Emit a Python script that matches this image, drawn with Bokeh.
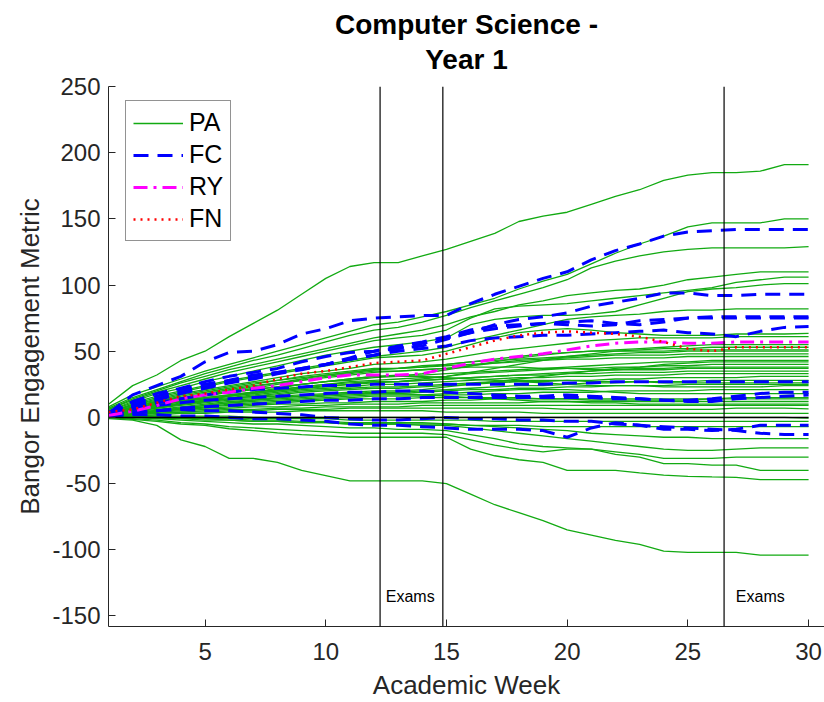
from bokeh.plotting import figure
from bokeh.models import Span, Legend, LegendItem, Range1d, FixedTicker, Title
from bokeh.embed import file_html
from bokeh.resources import INLINE
from bokeh.core.properties import value

TITLE_LINE_1 = "Computer Science -"
TITLE_LINE_2 = "Year 1"
X_LABEL = "Academic Week"
Y_LABEL = "Bangor Engagement Metric"
WEEKS = list(range(1, 31))
X_TICKS = [5, 10, 15, 20, 25, 30]
Y_TICKS = [-150, -100, -50, 0, 50, 100, 150, 200, 250]
Y_TICK_LABELS = ["-150", "-100", "-50", "0", "50", "100", "150", "200", "250"]
EXAM_LINES = [12.25, 14.85, 26.5]
EXAM_LABEL_X = [13.5, 28.0]
EXAM_LABEL_Y = [-135, -135]
EXAM_LABELS = ["Exams", "Exams"]

# PA (green, solid)
PA = [
    [10, 24, 32, 43, 50, 61, 71, 81, 93, 105, 114, 117, 117, 122, 127, 133, 139, 148, 152, 155, 161, 167, 172, 179, 183, 185, 185, 186, 191, 191],
    [8, 17, 23, 29, 35, 40, 45, 50, 55, 60, 65, 70, 72, 76, 80, 85, 90, 97, 103, 108, 116, 124, 131, 137, 144, 147, 147, 147, 150, 150],
    [7, 15, 21, 27, 33, 38, 43, 47, 52, 57, 62, 66, 68, 72, 77, 83, 88, 93, 98, 104, 113, 118, 122, 125, 127, 128, 128, 128, 128, 129],
    [6, 14, 20, 26, 31, 36, 40, 44, 48, 52, 56, 60, 63, 66, 70, 76, 80, 85, 88, 92, 94, 96, 97, 100, 104, 106, 108, 110, 110, 110],
    [6, 13, 19, 24, 29, 34, 38, 42, 46, 50, 54, 58, 60, 62, 66, 75, 82, 84, 85, 86, 88, 90, 92, 94, 96, 98, 102, 104, 106, 106],
    [5, 12, 18, 22, 27, 31, 35, 39, 43, 47, 50, 53, 55, 57, 60, 70, 74, 76, 77, 77, 78, 80, 85, 90, 95, 97, 98, 100, 101, 101],
    [5, 11, 16, 20, 24, 28, 31, 34, 37, 40, 43, 46, 48, 50, 53, 58, 62, 66, 70, 74, 76, 77, 78, 80, 81, 81, 82, 82, 82, 82],
    [4, 10, 15, 19, 23, 27, 30, 33, 36, 39, 42, 45, 46, 47, 50, 55, 60, 64, 66, 67, 66, 64, 63, 62, 62, 62, 63, 63, 63, 63.5],
    [4, 9, 14, 18, 21, 24, 27, 30, 33, 35, 37, 40, 41, 42, 44, 47, 50, 52, 54, 56, 58, 59, 60, 60, 60, 60, 61, 61, 61, 61],
    [3, 8, 12, 15, 17, 19, 21, 23, 25, 27, 28, 30, 31, 33, 36, 39, 42, 45, 47, 49, 50, 51, 52, 53, 54, 55, 55, 55, 55, 55],
    [2, 6, 9, 12, 14, 16, 18, 20, 22, 23, 25, 26, 27, 29, 31, 34, 37, 40, 43, 46, 48, 50, 51, 52, 52, 53, 53, 53, 53, 53],
    [4, 9, 13, 17, 20, 23, 26, 28, 30, 32, 34, 36, 37, 38, 40, 42, 44, 46, 48, 49, 50, 50, 50, 50, 51, 51, 51, 51, 51, 51],
    [3, 7, 11, 14, 17, 20, 23, 26, 29, 32, 34, 36, 37, 39, 40, 42, 43, 44, 45, 46, 47, 48, 49, 49, 50, 50, 50, 50, 50, 50],
    [3, 8, 12, 15, 18, 21, 24, 26, 28, 30, 32, 34, 35, 36, 37, 39, 41, 43, 44, 45, 46, 47, 47, 47, 48, 48, 48, 48, 48, 48],
    [3, 8, 12, 16, 19, 22, 25, 28, 31, 33, 35, 37, 37, 38, 39, 40, 41, 42, 43, 44, 44, 45, 45, 45, 46, 46, 46, 46, 46, 46],
    [3, 7, 11, 14, 17, 19, 21, 23, 25, 27, 29, 31, 32, 32, 33, 34, 35, 36, 37, 38, 39, 40, 41, 42, 42, 43, 43, 43, 43, 43],
    [2, 5, 8, 10, 12, 14, 15, 16, 17, 18, 19, 20, 20, 21, 23, 25, 27, 29, 31, 33, 35, 37, 38, 40, 41, 42, 42, 42, 42, 42],
    [3, 7, 10, 13, 15, 17, 19, 21, 23, 25, 27, 28, 29, 30, 31, 33, 34, 35, 36, 37, 37, 38, 38, 39, 39, 40, 40, 40, 40, 40],
    [2, 6, 9, 12, 15, 17, 19, 21, 23, 25, 26, 27, 27, 28, 29, 30, 31, 32, 33, 34, 35, 36, 37, 37, 38, 38, 38, 38, 38, 38],
    [2, 6, 10, 13, 16, 19, 22, 25, 28, 31, 33, 35, 35, 36, 37, 38, 38, 38, 37, 37, 36, 36, 36, 36, 37, 37, 37, 37, 37, 37],
    [2, 6, 9, 12, 14, 16, 18, 20, 22, 24, 25, 27, 27, 28, 29, 30, 31, 32, 32, 33, 33, 34, 34, 34, 35, 35, 35, 35, 35, 35],
    [2, 5, 8, 11, 13, 15, 17, 19, 21, 22, 23, 25, 25, 26, 27, 28, 29, 30, 30, 31, 31, 32, 32, 32, 33, 33, 33, 33, 33, 33],
    [2, 5, 8, 10, 12, 14, 16, 17, 19, 20, 21, 22, 22, 23, 24, 25, 26, 27, 27, 28, 28, 29, 29, 30, 30, 30, 30, 31, 31, 31],
    [2, 5, 7, 9, 11, 13, 14, 15, 16, 17, 18, 19, 19, 20, 21, 22, 23, 24, 24, 25, 26, 26, 27, 27, 27, 28, 28, 28, 28, 28],
    [2, 5, 8, 10, 12, 14, 16, 18, 20, 21, 22, 23, 23, 24, 25, 26, 27, 28, 28, 28, 27, 27, 27, 26, 26, 26, 26, 26, 26, 26],
    [1, 4, 6, 8, 10, 12, 13, 14, 15, 16, 17, 18, 18, 19, 20, 21, 21, 22, 22, 23, 23, 24, 24, 24, 25, 25, 25, 25, 25, 25],
    [1, 4, 7, 10, 13, 16, 19, 22, 25, 27, 29, 31, 31, 31, 30, 29, 28, 27, 26, 25, 24, 24, 24, 23, 23, 23, 23, 23, 24, 24],
    [1, 3, 5, 7, 8, 10, 11, 12, 13, 14, 15, 16, 16, 16, 17, 17, 18, 18, 19, 19, 19, 20, 20, 20, 20, 21, 21, 21, 21, 21],
    [1, 3, 5, 7, 9, 11, 12, 13, 14, 15, 16, 17, 17, 17, 18, 19, 20, 21, 21, 21, 20, 19, 18, 18, 18, 18, 18, 18, 18, 18],
    [1, 3, 5, 6, 8, 9, 10, 11, 12, 13, 14, 14, 14, 15, 15, 15, 15, 15, 14, 14, 13, 13, 13, 13, 13, 14, 15, 15, 15, 15],
    [1, 3, 4, 6, 7, 8, 9, 10, 10, 11, 11, 12, 12, 12, 13, 13, 14, 14, 14, 14, 14, 14, 14, 14, 14, 14, 14, 14, 14, 14],
    [1, 2, 4, 5, 6, 7, 8, 8, 9, 9, 10, 10, 10, 11, 11, 11, 11, 11, 12, 12, 12, 12, 12, 12, 12, 12, 12, 12, 12, 12],
    [1, 3, 5, 7, 9, 11, 13, 15, 16, 17, 18, 18, 18, 17, 16, 15, 14, 13, 12, 12, 11, 11, 10, 10, 10, 10, 10, 10, 10, 10],
    [1, 2, 3, 4, 5, 6, 6, 7, 7, 8, 8, 8, 8, 9, 9, 9, 9, 9, 9, 9, 9, 9, 9, 9, 9, 9, 9, 9, 9, 9],
    [1, 2, 3, 4, 4, 5, 5, 6, 6, 6, 7, 7, 7, 7, 7, 7, 7, 7, 7, 6, 6, 6, 6, 6, 6, 6, 7, 7, 7, 6.5],
    [0, 1, 2, 3, 3, 4, 4, 4, 5, 5, 5, 5, 5, 5, 4, 4, 4, 4, 3, 3, 3, 3, 3, 3, 3, 3, 3, 3, 3, 3],
    [0, 1, 1, 1, 1, 1, 0, 0, 0, 0, 0, 0, 0, 0, 0, 0, 0, 0, 0, 0, 0, 0, 0, 0, 0, 0, 0, 0, 0, -0.5],
    [1, 1, 1, 0, 0, 0, -1, -1, -1, -1, -2, -2, -2, -2, -2, -2, -3, -3, -3, -3, -3, -3, -3, -3, -3, -3, -3, -3, -3, -3],
    [0, 0, -1, -1, -2, -2, -3, -3, -4, -4, -5, -5, -5, -5, -5, -6, -6, -6, -7, -7, -7, -7, -7, -7, -7, -7, -7, -7, -7, -7],
    [1, 1, 0, 0, -1, -1, -2, -2, -3, -3, -4, -4, -4, -4, -5, -6, -7, -8, -9, -10, -12, -13, -14, -15, -15, -16, -16, -16, -16, -16],
    [1, 0, 0, -1, -1, -2, -3, -3, -4, -4, -5, -5, -5, -6, -6, -8, -10, -12, -14, -16, -18, -20, -22, -24, -25, -25, -24, -23, -23, -23],
    [1, 0, -1, -2, -3, -4, -5, -5, -6, -7, -8, -8, -9, -9, -10, -13, -16, -20, -22, -23, -24, -26, -28, -31, -31, -31, -30, -30, -30, -30],
    [0, -1, -2, -4, -5, -7, -8, -9, -10, -11, -12, -12, -12, -12, -13, -17, -21, -24, -26, -24, -24, -28, -30, -35, -35, -36, -36, -40, -40, -40],
    [0, -1.5, -3, -5, -6, -8.6, -10, -11.7, -13, -14, -15, -15, -15, -15, -15, -24, -29, -32, -34, -40, -40, -40, -42, -43.6, -44.6, -45, -45.3, -47, -47, -47],
    [-1, -2, -6, -17, -22, -31, -31, -34, -40, -44, -48, -48, -48, -48, -50, -58, -66, -72, -78, -85, -89, -93, -96, -101, -102, -102, -102, -104, -104, -104],
]

# FC (blue, dashed)
FC = [
    [3, 17, 24, 31, 42, 49, 50, 55, 63, 67, 73, 75, 76, 77, 77, 86, 93, 99, 105, 110, 119, 126, 131, 137, 140, 141, 142, 142, 142, 142],
    [3, 12, 18, 22, 27, 31, 34, 37, 42, 46, 49, 50, 52, 54, 59, 64, 70, 74, 76, 79, 84, 87, 90, 94, 94, 92, 92, 93, 93, 93],
    [4, 10, 16, 21, 25, 28, 32, 34, 37, 40, 44, 47, 52, 56, 60, 64, 67, 69, 71, 72, 73, 71, 70, 72, 75, 75, 75, 75, 75, 75],
    [2, 8, 13, 18, 22, 26, 29, 33, 36, 40, 45, 50, 54, 57, 61, 66, 69, 70, 71, 70, 69, 70, 73, 74, 75, 76, 76, 76, 76, 76],
    [3, 9, 14, 19, 23, 27, 30, 34, 37, 40, 44, 47, 50, 52, 54, 58, 60, 61, 62, 62, 63, 64, 65, 66, 64, 63, 61, 65, 68, 68.6],
    [2, 7, 11, 14, 17, 19, 21, 22, 23, 24, 24, 25, 25, 25, 25, 25, 25, 25, 25, 26, 26, 27, 27, 27, 27, 27, 27, 27, 27, 27],
    [3, 6, 9, 11, 13, 14, 15, 16, 17, 18, 19, 19, 20, 20, 19, 18, 17, 16, 16, 17, 16, 15, 14, 13, 13, 14, 16, 18, 19, 19],
    [1, 3, 5, 7, 8, 9, 10, 11, 12, 13, 13, 14, 14, 15, 15, 15, 15, 15, 15, 15, 15, 14, 14, 13, 12, 12, 14, 15, 16, 17],
    [1, 2, 2, 1, 1, 0, -1, -1, -2, -3, -5, -6, -6, -7, -8, -9, -9, -9, -10, -15, -8, -4, -6, -9, -9, -10, -9, -6, -6, -6],
    [2, 4, 5, 6, 5, 5, 4, 3, 2, 0, -1, -2, -2, -1, 0, -1, -1, -2, -2, -3, -3, -5, -6, -7, -8, -9, -10, -12, -13, -13],
]

# RY (magenta, dash-dot)
RY = [1.5, 4.6, 9, 14, 17, 19, 22, 24, 27, 30, 32, 32, 32, 33, 37, 41, 44, 46, 48, 51, 54, 56, 57, 57, 56, 56, 57, 57, 57, 57]

# FN (red, dotted)
FN = [4, 6, 11, 16, 18, 21, 24, 29, 33, 35, 38, 41, 42, 43, 48, 53, 58, 62, 64, 65, 64, 63, 61, 57, 52, 50, 53, 53, 53, 53]

GREEN = "#12aa12"
AXIS_COLOR = "#262626"
FONT = "Liberation Sans"

p = figure(width=824, height=702, output_backend="svg", toolbar_location=None,
           x_range=Range1d(1, 30.66), y_range=Range1d(-158, 250),
           min_border_left=108, min_border_right=0, min_border_top=86, min_border_bottom=76)
p.outline_line_color = None
p.xgrid.visible = False
p.ygrid.visible = False
p.background_fill_color = "white"
p.border_fill_color = "white"

# outer title line
p.title.text = TITLE_LINE_1
p.title.align = "center"
p.title.offset = 4
p.title.standoff = -21
p.title.text_font = FONT
p.title.text_font_size = "28px"
p.title.text_font_style = "bold"
p.title.text_color = "black"
# inner title line (nearest the frame)
p.add_layout(Title(text=TITLE_LINE_2, align="center", offset=4, standoff=24,
                   text_font=FONT, text_font_size="28px", text_font_style="bold",
                   text_color="black"), "above")

for ax in (p.xaxis[0], p.yaxis[0]):
    ax.axis_line_color = AXIS_COLOR
    ax.major_tick_line_color = AXIS_COLOR
    ax.minor_tick_line_color = None
    ax.major_tick_in = 7
    ax.major_tick_out = 0
    ax.major_label_text_font = FONT
    ax.major_label_text_font_size = "24px"
    ax.major_label_text_color = AXIS_COLOR
    ax.axis_label_text_font = FONT
    ax.axis_label_text_font_size = "26px"
    ax.axis_label_text_font_style = "normal"
    ax.axis_label_text_color = AXIS_COLOR

p.xaxis.ticker = FixedTicker(ticks=X_TICKS)
p.yaxis.ticker = FixedTicker(ticks=Y_TICKS)
p.yaxis.major_label_overrides = dict(zip(Y_TICKS, Y_TICK_LABELS))
p.xaxis.axis_label = X_LABEL
p.yaxis.axis_label = Y_LABEL
p.xaxis.major_label_standoff = 16
p.xaxis.axis_label_standoff = 7
p.yaxis.major_label_standoff = 8
p.yaxis.axis_label_standoff = 4

pa_r = []
for s in PA:
    pa_r.append(p.line(WEEKS, s, line_color=GREEN, line_width=1.3))
fc_r = []
for s in FC:
    fc_r.append(p.line(WEEKS, s, line_color="#0000ff", line_width=3, line_dash="15 9"))
ry_r = p.line(WEEKS, RY, line_color="#ff00ff", line_width=3, line_dash="14 6 3 6")
fn_r = p.line(WEEKS, FN, line_color="#ff0000", line_width=2.5, line_dash="2 5")

p.line([WEEKS[0], WEEKS[-1]], [0, 0], line_color="black", line_width=1.5)
for xe in EXAM_LINES:
    p.add_layout(Span(location=xe, dimension="height", line_color="black", line_width=1.2))

p.text(x=EXAM_LABEL_X, y=EXAM_LABEL_Y, text=EXAM_LABELS, text_font=value(FONT),
       text_font_size="16px", text_align="center", text_baseline="middle", text_color="black")

legend = Legend(items=[
    LegendItem(label="PA", renderers=[pa_r[0]]),
    LegendItem(label="FC", renderers=[fc_r[0]]),
    LegendItem(label="RY", renderers=[ry_r]),
    LegendItem(label="FN", renderers=[fn_r]),
], location=(17, 385))
legend.margin = 0
legend.padding = 7
legend.spacing = 3
legend.glyph_width = 50
legend.glyph_height = 24
legend.label_height = 24
legend.label_standoff = 6
legend.label_text_font = FONT
legend.label_text_font_size = "25px"
legend.label_text_color = "black"
legend.border_line_color = AXIS_COLOR
legend.border_line_width = 1
legend.background_fill_color = "white"
legend.background_fill_alpha = 1
p.add_layout(legend)

open("out.html", "w").write(file_html(p, INLINE))
